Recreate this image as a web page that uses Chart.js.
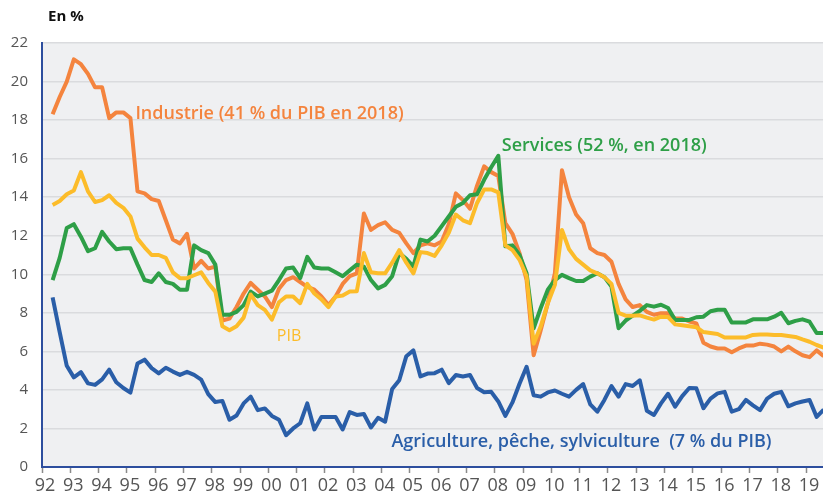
<!DOCTYPE html>
<html lang="fr">
<head>
<meta charset="utf-8">
<script src="https://cdn.jsdelivr.net/npm/chart.js@4/dist/chart.umd.min.js"></script>
<style>
html,body{margin:0;padding:0;background:#fff;}
#wrap{width:823px;height:498px;position:relative;}
</style>
</head>
<body>
<div id="wrap"><canvas id="c" width="823" height="498"></canvas></div>
<script>
// Quarterly series, first quarter = 1992 T2, last = 2019 T3
const firstYear = 1992;
const firstQuarter = 2;

const industrie = [18.3,19.2,20.0,21.15,20.9,20.4,19.7,19.7,18.1,18.4,18.4,18.1,14.3,14.2,13.9,13.8,12.8,11.8,11.6,12.1,
10.3,10.7,10.3,10.4,7.6,7.7,8.3,9.0,9.55,9.2,8.85,8.3,9.25,9.7,9.85,9.6,9.35,9.2,8.85,8.4,
8.85,9.5,9.9,10.05,13.15,12.3,12.55,12.7,12.3,12.15,11.6,11.1,11.5,11.6,11.5,11.7,12.6,14.2,13.85,13.4,
14.6,15.6,15.3,15.1,12.65,12.1,11.1,9.7,5.8,7.1,8.5,10.05,15.4,14.0,13.1,12.65,11.35,11.1,11.0,10.65,
9.5,8.7,8.3,8.4,8.05,7.9,7.98,7.98,7.7,7.7,7.55,7.45,6.45,6.25,6.15,6.15,5.95,6.15,6.3,6.3,
6.4,6.35,6.25,6.0,6.25,6.0,5.8,5.7,6.05,5.75];

const services = [9.7,10.85,12.4,12.6,11.95,11.2,11.35,12.2,11.7,11.3,11.35,11.35,10.5,9.7,9.6,10.05,9.6,9.5,9.2,9.2,
11.5,11.25,11.1,10.5,7.9,7.9,8.05,8.4,9.1,8.85,9.0,9.15,9.7,10.3,10.35,9.8,10.9,10.35,10.3,10.3,
10.1,9.9,10.2,10.5,10.4,9.7,9.27,9.45,9.9,11.1,10.8,10.4,11.8,11.7,12.0,12.5,13.0,13.5,13.7,14.1,
14.15,14.9,15.55,16.15,11.45,11.5,11.0,10.05,7.2,8.25,9.2,9.7,9.97,9.8,9.65,9.65,9.88,10.05,9.85,9.36,
7.2,7.6,7.85,8.1,8.4,8.32,8.42,8.25,7.63,7.63,7.63,7.77,7.8,8.08,8.16,8.16,7.5,7.5,7.5,7.66,
7.66,7.66,7.8,8.0,7.46,7.58,7.66,7.54,6.95,6.95];

const pib = [13.6,13.8,14.15,14.35,15.3,14.3,13.75,13.85,14.1,13.7,13.45,13.0,11.85,11.4,11.0,11.0,10.85,10.1,9.8,9.8,
9.95,10.1,9.55,9.1,7.3,7.1,7.3,7.75,8.95,8.4,8.15,7.65,8.55,8.85,8.85,8.5,9.5,9.0,8.7,8.3,
8.84,8.9,9.1,9.12,11.1,10.1,10.05,10.05,10.6,11.25,10.6,10.05,11.15,11.1,10.95,11.5,12.15,13.1,12.8,12.65,
13.7,14.4,14.4,14.25,11.5,11.25,10.75,9.9,6.4,7.3,8.5,9.45,12.3,11.3,10.8,10.5,10.2,10.05,9.85,9.5,
8.0,7.85,7.85,7.87,7.75,7.65,7.8,7.78,7.4,7.35,7.3,7.25,7.0,6.95,6.9,6.72,6.72,6.72,6.72,6.85,
6.88,6.88,6.85,6.85,6.8,6.75,6.62,6.5,6.33,6.2];

const agriculture = [8.8,7.0,5.25,4.65,4.92,4.34,4.26,4.55,5.05,4.4,4.1,3.86,5.37,5.57,5.13,4.86,5.15,4.95,4.78,4.94,
4.78,4.53,3.78,3.37,3.43,2.45,2.67,3.3,3.65,2.95,3.04,2.65,2.45,1.65,2.0,2.27,3.3,1.95,2.6,2.6,
2.6,1.95,2.85,2.7,2.75,2.05,2.55,2.35,4.05,4.5,5.75,6.05,4.7,4.85,4.87,5.05,4.35,4.77,4.7,4.77,
4.1,3.88,3.9,3.4,2.65,3.35,4.32,5.2,3.72,3.65,3.87,3.97,3.8,3.65,4.0,4.3,3.25,2.87,3.48,4.2,
3.65,4.3,4.2,4.5,2.92,2.7,3.3,3.8,3.13,3.68,4.1,4.08,3.05,3.55,3.82,3.9,2.87,3.0,3.48,3.2,
2.95,3.55,3.8,3.9,3.15,3.3,3.4,3.48,2.6,2.98];

const yearTickLabels = ['92','93','94','95','96','97','98','99','00','01','02','03','04','05','06','07','08','09','10','11','12','13','14','15','16','17','18','19'];
const yTicks = [0,2,4,6,8,10,12,14,16,18,20,22];

const labels = {
  industrie: 'Industrie (41 % du PIB en 2018)',
  services: 'Services (52 %, en 2018)',
  pib: 'PIB',
  agriculture: 'Agriculture, pêche, sylviculture  (7 % du PIB)',
  unit: 'En %'
};

const colors = {
  industrie: '#F4843E',
  services: '#2E9F47',
  pib: '#FCBC2A',
  agriculture: '#2A5EA8'
};

// x position (in years) of each quarter: middle of the quarter
function quarterX(i){
  const q = (firstQuarter - 1) + i;
  return firstYear + q / 4 + 0.125;
}
function toPoints(arr){ return arr.map((v,i)=>({x: quarterX(i), y: v})); }

const FONT = "'Open Sans', 'DejaVu Sans', sans-serif";

const bgPlugin = {
  id: 'bg',
  beforeDraw(chart){
    const {ctx, chartArea:a} = chart;
    ctx.save();
    ctx.fillStyle = '#EFF0F2';
    ctx.fillRect(a.left, a.top, a.right - a.left, a.bottom - a.top);
    ctx.restore();
  }
};

const textPlugin = {
  id: 'texts',
  afterDatasetsDraw(chart){
    const {ctx, chartArea:a, scales:{x, y}} = chart;
    ctx.save();
    ctx.textBaseline = 'middle';
    ctx.textAlign = 'left';
    ctx.fillStyle = '#111';
    ctx.font = "bold 15px " + FONT;
    ctx.fillText(labels.unit, a.left + 6, a.top - 26);
    const notes = [
      {t: labels.industrie, c: colors.industrie, x: 1995.3, y: 18.3, w: '600', s: 18},
      {t: labels.services, c: colors.services, x: 2008.25, y: 16.66, w: '600', s: 18},
      {t: labels.pib, c: colors.pib, x: 2000.3, y: 6.76, w: '400', s: 16},
      {t: labels.agriculture, c: colors.agriculture, x: 2004.35, y: 1.28, w: '600', s: 18}
    ];
    notes.forEach(n => {
      ctx.fillStyle = n.c;
      ctx.font = n.w + " " + n.s + "px " + FONT;
      ctx.fillText(n.t, x.getPixelForValue(n.x), y.getPixelForValue(n.y));
    });
    ctx.restore();
  }
};

function ds(label, data, color, order){
  return {
    label, data: toPoints(data), borderColor: color, backgroundColor: color,
    borderWidth: 4, pointRadius: 0, tension: 0, fill: false, order,
    borderJoinStyle: 'round', borderCapStyle: 'butt'
  };
}

new Chart(document.getElementById('c'), {
  type: 'line',
  data: {
    datasets: [
      ds('PIB', pib, colors.pib, 1),
      ds('Services', services, colors.services, 2),
      ds('Industrie', industrie, colors.industrie, 3),
      ds('Agriculture', agriculture, colors.agriculture, 4)
    ]
  },
  options: {
    responsive: false,
    animation: false,
    devicePixelRatio: 1,
    layout: { padding: { top: 43, right: 0, bottom: 0, left: 0 } },
    plugins: { legend: { display: false }, tooltip: { enabled: false } },
    scales: {
      x: {
        type: 'linear',
        min: 1992,
        max: 2019.6,
        afterBuildTicks(scale){
          scale.ticks = yearTickLabels.map((_, i) => ({value: firstYear + i}));
        },
        afterFit(scale){ scale.height = 31; },
        ticks: {
          stepSize: 1,
          autoSkip: false,
          maxRotation: 0,
          labelOffset: 3,
          padding: 2,
          color: '#555',
          font: { family: FONT, size: 18 },
          callback: (v) => yearTickLabels[Math.round(v) - firstYear]
        },
        grid: { drawOnChartArea: false, drawTicks: true, tickLength: 6, tickColor: '#8a8a8a', tickWidth: 1.5 },
        border: { display: true, color: '#2D4E9E', width: 2 }
      },
      y: {
        min: 0,
        max: 22,
        afterBuildTicks(scale){ scale.ticks = yTicks.map(v => ({value: v})); },
        afterFit(scale){ scale.width = 42; },
        ticks: {
          color: '#555',
          padding: 14,
          font: { family: FONT, size: 15 },
          callback: (v) => String(v)
        },
        grid: { color: '#DADBDE', lineWidth: 1.5, drawTicks: false },
        border: { display: true, color: '#2D4E9E', width: 2 }
      }
    }
  },
  plugins: [bgPlugin, textPlugin]
});
</script>
</body>
</html>
